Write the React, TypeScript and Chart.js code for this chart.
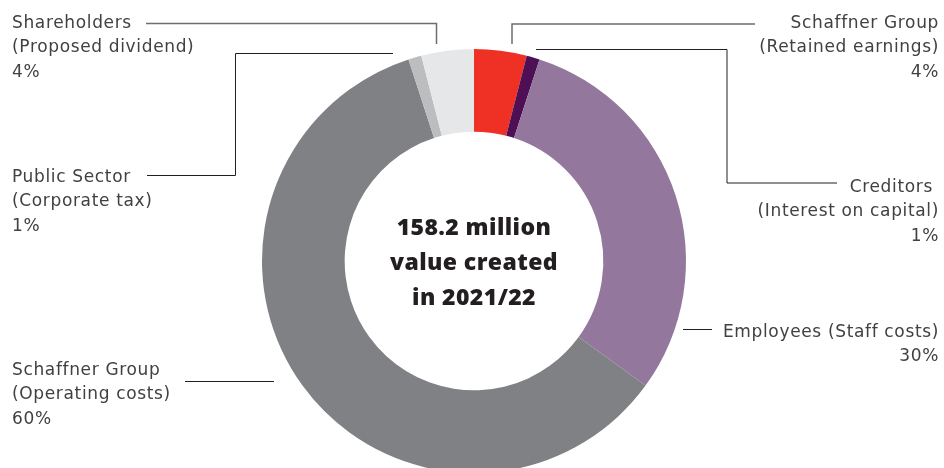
import React, { useEffect, useRef } from "react";
import { Chart, registerables } from "chart.js";

Chart.register(...registerables);

const categories = [
  "Schaffner Group (Retained earnings)",
  "Creditors (Interest on capital)",
  "Employees (Staff costs)",
  "Schaffner Group (Operating costs)",
  "Public Sector (Corporate tax)",
  "Shareholders (Proposed dividend)",
];
const shares = [4, 1, 30, 60, 1, 4];
const colors = ["#EE3124", "#4E0F55", "#94779C", "#808184", "#BBBDBF", "#E6E7E8"];
const centerLines = ["158.2 million", "value created", "in 2021/22"];

type Label = {
  lines: string[];
  x: number;
  y: number;
  align: CanvasTextAlign;
  path: number[][];
  lineColor: string;
  lineWidth: number;
};

const labelLayout: Label[] = [
  {
    lines: ["Schaffner Group", "(Retained earnings)", shares[0] + "%"],
    x: 939, y: 23.5, align: "right",
    path: [[755, 24], [512, 24], [512, 44]], lineColor: "#6d6e71", lineWidth: 1.5,
  },
  {
    lines: ["Creditors ", "(Interest on capital)", shares[1] + "%"],
    x: 939, y: 187.5, align: "right",
    path: [[837, 183], [727, 183], [727, 49.5], [536, 49.5]], lineColor: "#231f20", lineWidth: 1,
  },
  {
    lines: ["Employees (Staff costs)", shares[2] + "%"],
    x: 939, y: 332.5, align: "right",
    path: [[712, 329.5], [683, 329.5]], lineColor: "#231f20", lineWidth: 1,
  },
  {
    lines: ["Schaffner Group", "(Operating costs)", shares[3] + "%"],
    x: 12, y: 370.5, align: "left",
    path: [[185, 381.5], [274, 381.5]], lineColor: "#231f20", lineWidth: 1,
  },
  {
    lines: ["Public Sector", "(Corporate tax)", shares[4] + "%"],
    x: 12, y: 177.5, align: "left",
    path: [[147, 175.5], [235.5, 175.5], [235.5, 53.5], [393, 53.5]], lineColor: "#231f20", lineWidth: 1,
  },
  {
    lines: ["Shareholders", "(Proposed dividend)", shares[5] + "%"],
    x: 12, y: 23.5, align: "left",
    path: [[146, 23.5], [436.5, 23.5], [436.5, 44]], lineColor: "#6d6e71", lineWidth: 1.5,
  },
];

const annotationPlugin = {
  id: "annotations",
  afterDraw(chart: any) {
    const ctx: CanvasRenderingContext2D = chart.ctx;
    ctx.save();
    for (const l of labelLayout) {
      ctx.beginPath();
      ctx.strokeStyle = l.lineColor;
      ctx.lineWidth = l.lineWidth;
      l.path.forEach((p, i) => (i === 0 ? ctx.moveTo(p[0], p[1]) : ctx.lineTo(p[0], p[1])));
      ctx.stroke();
      ctx.fillStyle = "#414042";
      ctx.font = "17px 'DejaVu Sans'";
      (ctx as any).letterSpacing = "0.65px";
      ctx.textAlign = l.align;
      ctx.textBaseline = "middle";
      l.lines.forEach((t, i) => ctx.fillText(t, l.x, l.y + i * 24.5));
    }
    const meta = chart.getDatasetMeta(0);
    const arc = meta.data[0];
    const cx = arc.x;
    const cy = arc.y;
    ctx.fillStyle = "#231f20";
    ctx.font = "800 23px 'Open Sans'";
    (ctx as any).letterSpacing = "0.4px";
    ctx.textAlign = "center";
    ctx.textBaseline = "middle";
    centerLines.forEach((t, i) => ctx.fillText(t, cx, cy - 33 + i * 35));
    ctx.restore();
  },
};

export default function App() {
  const ref = useRef<HTMLCanvasElement>(null);
  useEffect(() => {
    if (!ref.current) return;
    const chart = new Chart(ref.current, {
      type: "doughnut",
      data: {
        labels: categories,
        datasets: [
          {
            data: shares,
            backgroundColor: colors,
            borderWidth: 0,
            hoverOffset: 0,
          },
        ],
      },
      options: {
        responsive: false,
        animation: false,
        cutout: "61%",
        layout: { padding: { left: 262, right: 258, top: 49, bottom: 7 } },
        plugins: {
          legend: { display: false },
          tooltip: { enabled: false },
        },
      },
      plugins: [annotationPlugin],
    });
    return () => chart.destroy();
  }, []);
  return (
    <div style={{ position: "fixed", left: 0, top: 0, width: 944, height: 468, overflow: "hidden", background: "#fff" }}>
      <canvas ref={ref} width={944} height={480} style={{ display: "block" }} />
    </div>
  );
}
